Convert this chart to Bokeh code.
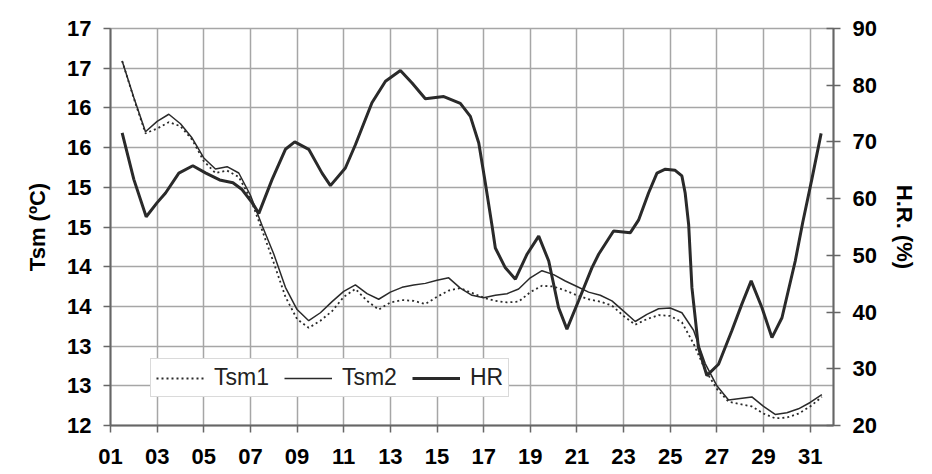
from bokeh.plotting import figure
from bokeh.models import Range1d, LinearAxis, FixedTicker, Legend, LegendItem, BoxAnnotation
from bokeh.embed import file_html
from bokeh.resources import INLINE

# ---- data ----
days_tsm = [1.5, 2.0, 2.5, 3.0, 3.5, 4.0, 4.5, 5.0, 5.5, 6.0, 6.5, 7.0, 7.5, 8.0, 8.5,
            9.0, 9.5, 10.0, 10.5, 11.0, 11.5, 12.0, 12.5, 13.0, 13.5, 14.0, 14.5, 15.0,
            15.5, 16.0, 16.5, 17.0, 17.5, 18.0, 18.5, 19.0, 19.5, 20.0, 20.5, 21.0, 21.5,
            22.0, 22.5, 23.0, 23.5, 24.0, 24.5, 25.0, 25.5, 26.0, 26.5, 27.0, 27.5, 28.0,
            28.5, 29.0, 29.5, 30.0, 30.5, 31.0, 31.5]

tsm1 = [16.59, 16.12, 15.68, 15.74, 15.82, 15.77, 15.60, 15.33, 15.18, 15.21, 15.13,
        14.86, 14.46, 14.05, 13.62, 13.34, 13.23, 13.32, 13.44, 13.62, 13.72, 13.57,
        13.46, 13.55, 13.58, 13.57, 13.53, 13.62, 13.70, 13.73, 13.67, 13.61, 13.57,
        13.55, 13.56, 13.68, 13.76, 13.75, 13.70, 13.64, 13.59, 13.56, 13.51, 13.38,
        13.27, 13.34, 13.39, 13.38, 13.30, 13.03, 12.70, 12.46, 12.30, 12.27, 12.24,
        12.15, 12.09, 12.10, 12.15, 12.24, 12.36]

tsm2 = [16.59, 16.13, 15.70, 15.83, 15.92, 15.80, 15.62, 15.37, 15.23, 15.26, 15.18,
        14.90, 14.52, 14.16, 13.74, 13.46, 13.32, 13.42, 13.56, 13.69, 13.77, 13.66,
        13.59, 13.68, 13.74, 13.77, 13.79, 13.83, 13.86, 13.73, 13.64, 13.61, 13.64,
        13.66, 13.72, 13.86, 13.95, 13.90, 13.82, 13.75, 13.68, 13.64, 13.57, 13.44,
        13.31, 13.40, 13.47, 13.48, 13.42, 13.20, 12.78, 12.50, 12.32, 12.34, 12.36,
        12.24, 12.14, 12.16, 12.21, 12.29, 12.39]

days_hr = [1.5, 2.0, 2.53, 3.0, 3.36, 3.93, 4.53, 5.09, 5.68, 6.25, 6.64, 7.07, 7.36,
           7.93, 8.5, 8.9, 9.5, 10.07, 10.43, 11.07, 11.5, 12.21, 12.79, 13.43, 13.93,
           14.5, 15.29, 16.0, 16.43, 16.79, 17.07, 17.36, 17.5, 17.93, 18.36, 18.86,
           19.36, 19.79, 20.21, 20.57, 21.07, 21.64, 21.93, 22.57, 23.29, 23.64, 24.07,
           24.43, 24.79, 25.21, 25.5, 25.64, 25.79, 25.93, 26.21, 26.57, 27.07, 27.64,
           28.07, 28.47, 28.93, 29.36, 29.79, 30.36, 30.68, 31.07, 31.47]

hr = [71.6, 63.4, 56.8, 59.3, 61.0, 64.5, 65.8, 64.5, 63.3, 62.8, 61.6, 59.3, 57.4,
      63.4, 68.7, 70.0, 68.7, 64.5, 62.3, 65.4, 69.5, 76.9, 80.7, 82.6, 80.4,
      77.6, 78.0, 76.8, 74.5, 69.8, 62.8, 55.2, 51.3, 47.8, 45.8, 50.2,
      53.4, 49.0, 40.8, 37.0, 42.0, 47.8, 50.2, 54.3, 54.0, 56.2, 61.0,
      64.5, 65.2, 65.0, 64.0, 61.0, 55.4, 44.3, 33.7, 28.8, 30.8, 36.7,
      41.4, 45.5, 40.8, 35.5, 39.0, 49.0, 55.8, 63.4, 71.5]

x_ticks = [1, 3, 5, 7, 9, 11, 13, 15, 17, 19, 21, 23, 25, 27, 29, 31]
x_labels = ["01", "03", "05", "07", "09", "11", "13", "15", "17", "19", "21",
            "23", "25", "27", "29", "31"]
left_ticks = [12.0, 12.5, 13.0, 13.5, 14.0, 14.5, 15.0, 15.5, 16.0, 16.5, 17.0]
left_labels = ["12", "13", "13", "14", "14", "15", "15", "16", "16", "17", "17"]
right_ticks = [20, 30, 40, 50, 60, 70, 80, 90]

FONT = "Liberation Sans"
INK = "#2a2a2a"
GRID = "#a6a6a6"

p = figure(width=924, height=468, output_backend="svg", toolbar_location=None,
           x_range=Range1d(1, 32), y_range=Range1d(12, 17),
           min_border_left=110, min_border_right=91, min_border_top=28,
           min_border_bottom=43)
p.extra_y_ranges = {"hr": Range1d(20, 90)}
p.background_fill_color = "white"
p.border_fill_color = "white"
p.outline_line_color = GRID
p.outline_line_width = 1.5

# outer chart border (light frame around the whole chart)
p.add_layout(BoxAnnotation(left=5, right=990, top=8, bottom=990,
                           left_units="canvas", right_units="canvas",
                           top_units="canvas", bottom_units="canvas",
                           fill_color=None, line_color="#cfcfcf", line_width=1.5,
                           level="underlay"))

# grids
p.xgrid.ticker = FixedTicker(ticks=x_ticks)
p.ygrid.ticker = FixedTicker(ticks=left_ticks)
for g in (p.xgrid, p.ygrid):
    g.grid_line_color = GRID
    g.grid_line_width = 1.5

# x axis
xa = p.xaxis[0]
xa.ticker = FixedTicker(ticks=x_ticks)
xa.major_label_overrides = {t: l for t, l in zip(x_ticks, x_labels)}

# left axis
ya = p.yaxis[0]
ya.ticker = FixedTicker(ticks=left_ticks)
ya.major_label_overrides = {t: l for t, l in zip(left_ticks, left_labels)}
ya.axis_label = "Tsm (ºC)"

# right axis
ra = LinearAxis(y_range_name="hr", ticker=FixedTicker(ticks=right_ticks),
                axis_label="H.R. (%)")
p.add_layout(ra, "right")

for ax in (xa, ya, ra):
    ax.axis_line_color = "#666666"
    ax.axis_line_width = 2
    ax.major_tick_line_color = "#666666"
    ax.major_tick_line_width = 1.5
    ax.major_tick_out = 7
    ax.major_tick_in = 0
    ax.minor_tick_line_color = None
    ax.major_label_text_font = FONT
    ax.major_label_text_font_style = "bold"
    ax.major_label_text_font_size = "22px"
    ax.major_label_text_color = "black"
    ax.axis_label_text_font = FONT
    ax.axis_label_text_font_style = "bold"
    ax.axis_label_text_font_size = "22px"
    ax.axis_label_text_color = "black"
ra.major_tick_in = 7
xa.major_label_standoff = 16
ya.major_label_standoff = 12
ra.major_label_standoff = 12
ya.axis_label_standoff = 14
ra.axis_label_standoff = 12

# series
r1 = p.line(days_tsm, tsm1, line_color=INK, line_width=1.8, line_dash="2 3")
r2 = p.line(days_tsm, tsm2, line_color=INK, line_width=1.5)
r3 = p.line(days_hr, hr, line_color=INK, line_width=3, y_range_name="hr")

legend = Legend(items=[LegendItem(label="Tsm1", renderers=[r1]),
                       LegendItem(label="Tsm2", renderers=[r2]),
                       LegendItem(label="HR", renderers=[r3])],
                orientation="horizontal", location=(40, 28))
legend.label_text_font = FONT
legend.label_text_font_size = "23px"
legend.label_text_color = "#222222"
legend.glyph_width = 48
legend.glyph_height = 20
legend.label_standoff = 10
legend.spacing = 15
legend.padding = 5
legend.margin = 0
legend.border_line_color = "#b5b5b5"
legend.border_line_width = 1.5
legend.background_fill_color = "white"
legend.background_fill_alpha = 1
p.add_layout(legend)

open("out.html", "w").write(file_html(p, INLINE))
